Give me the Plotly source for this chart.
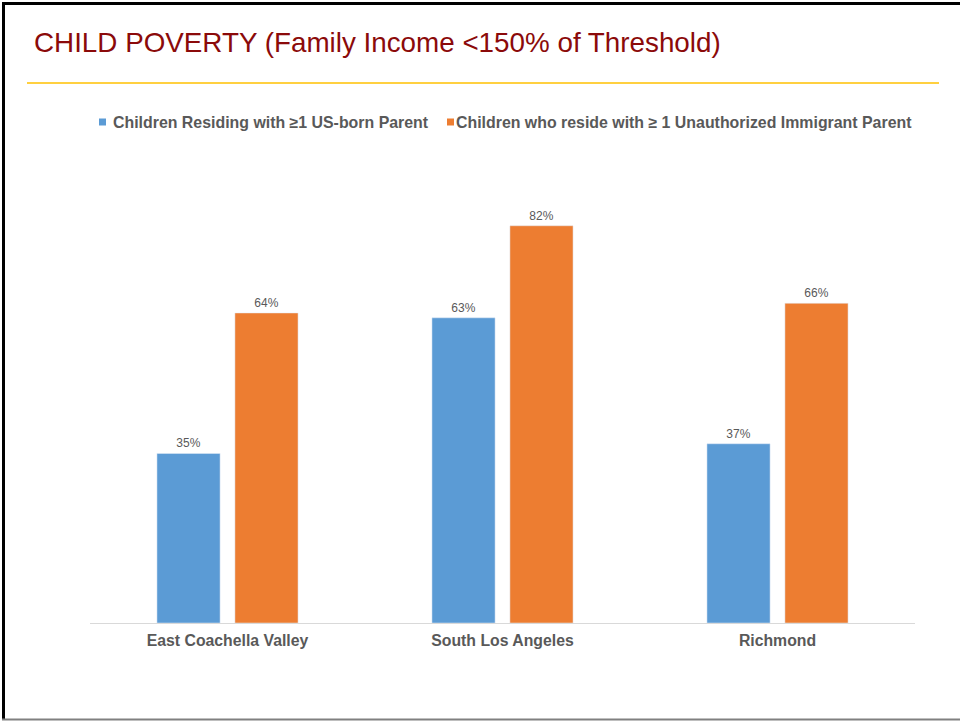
import plotly.graph_objects as go

categories = ["East Coachella Valley", "South Los Angeles", "Richmond"]
series_names = ["Children Residing with ≥1 US-born Parent",
                "Children who reside with ≥ 1 Unauthorized Immigrant Parent"]
us_born = [0.35, 0.63, 0.37]
unauthorized = [0.64, 0.82, 0.66]
colors = ["#5B9BD5", "#ED7D31"]
title_text = "CHILD POVERTY (Family Income <150% of Threshold)"

W, H = 960, 721
ML, MR, MT, MB = 90, 45, 187, 98
PW, PH = W - ML - MR, H - MT - MB

def px(x):
    return (x - ML) / PW

def py(y):
    return (H - MB - y) / PH

FONT = "Arial, Liberation Sans, sans-serif"
GRAY = "#595959"

fig = go.Figure()
for name, vals, c in zip(series_names, [us_born, unauthorized], colors):
    fig.add_trace(go.Bar(
        x=categories, y=vals, name=name, marker_color=c,
        text=[f"{v:.0%}" for v in vals], textposition="outside",
        textfont=dict(size=12, color=GRAY, family=FONT),
        cliponaxis=False, showlegend=False, hoverinfo="skip",
    ))

shapes = [
    # slide frame
    dict(type="line", xref="paper", yref="paper", x0=px(3.5), x1=px(3.5), y0=py(2), y1=py(719),
         line=dict(color="black", width=3)),
    dict(type="line", xref="paper", yref="paper", x0=px(2), x1=px(960), y0=py(3.5), y1=py(3.5),
         line=dict(color="black", width=3)),
    dict(type="line", xref="paper", yref="paper", x0=px(2), x1=px(960), y0=py(719.5), y1=py(719.5),
         line=dict(color="#808080", width=2)),
    # gold divider
    dict(type="line", xref="paper", yref="paper", x0=px(27), x1=px(939), y0=py(83), y1=py(83),
         line=dict(color="#FFC000", width=1.5)),
]

annotations = [
    dict(text=title_text, xref="paper", yref="paper", x=px(32), y=py(42),
         xanchor="left", yanchor="middle", showarrow=False,
         font=dict(size=27.8, color="#8B0A0A", family=FONT)),
]

# legend (manual)
leg_items = [(99, 113), (447, 456)]
for (sx, tx), name, c in zip(leg_items, series_names, colors):
    shapes.append(dict(type="rect", xref="paper", yref="paper",
                       x0=px(sx), x1=px(sx + 7), y0=py(118.5), y1=py(125.5),
                       fillcolor=c, line=dict(width=0)))
    annotations.append(dict(text=f"<b>{name}</b>", xref="paper", yref="paper",
                            x=px(tx - 2), y=py(122), xanchor="left", yanchor="middle",
                            showarrow=False, font=dict(size=15.9, color=GRAY, family=FONT)))

fig.update_layout(
    width=W, height=H,
    margin=dict(l=ML, r=MR, t=MT, b=MB),
    paper_bgcolor="white", plot_bgcolor="white",
    barmode="group", bargap=0.433, bargroupgap=0.19,
    shapes=shapes, annotations=annotations,
    xaxis=dict(showline=True, linecolor="#D9D9D9", linewidth=1, ticks="",
               tickfont=dict(size=15.8, color=GRAY, family=FONT),
               tickprefix="<b>", ticksuffix="</b>", showgrid=False,
               ticklabelstandoff=3),
    yaxis=dict(range=[0, 0.9], visible=False, showgrid=False, zeroline=False),
    font=dict(family=FONT),
)

fig.write_html("out.html", config={"displayModeBar": False},
               post_script="document.body.style.margin='0';")
